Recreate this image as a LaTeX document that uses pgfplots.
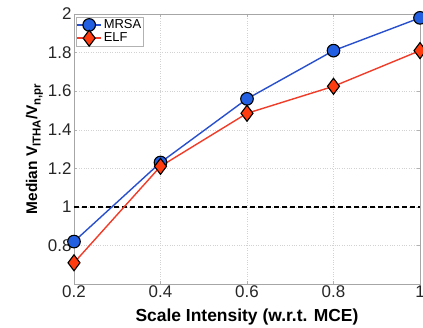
\documentclass[border=0pt]{standalone}
\usepackage{pgfplots}
\pgfplotsset{compat=1.18}
\usepackage{fontspec}
\setmainfont{Liberation Sans}
\definecolor{mblue}{RGB}{40,80,205}
\definecolor{mbluefill}{RGB}{35,95,225}
\definecolor{ered}{RGB}{240,60,40}
\definecolor{eredfill}{RGB}{255,60,15}
\newcommand{\sub}[1]{\raisebox{-0.45ex}{\fontsize{11.5}{12}\selectfont\bfseries #1}}
\begin{document}
\begin{tikzpicture}
\useasboundingbox (-74bp,-44bp) rectangle (349bp,284bp);
\begin{axis}[
  at={(0,0)}, anchor=south west,
  scale only axis, width=346bp, height=270bp,
  xmin=0.2, xmax=1, ymin=0.6, ymax=2,
  xtick={0.2,0.4,0.6,0.8,1},
  ytick={0.8,1,1.2,1.4,1.6,1.8,2},
  xticklabels={0.2,0.4,0.6,0.8,1},
  yticklabels={0.8,1,1.2,1.4,1.6,1.8,2},
  tick label style={font=\fontsize{17}{18}\selectfont, text=black!85},
  xticklabel style={yshift=2bp},
  yticklabel style={xshift=1bp},
  grid=major,
  major grid style={dotted, gray!35},
  axis line style={gray!70, line width=0.8bp},
  tick style={gray!60},
  major tick length=3bp,
  tick align=inside,
  xlabel={\textbf{Scale Intensity (w.r.t. MCE)}},
  ylabel={\textbf{Median V\sub{ITHA}/V\sub{n,pr}}},
  xlabel style={font=\fontsize{17.5}{19}\selectfont, yshift=-5bp},
  ylabel style={font=\fontsize{15.5}{17}\selectfont, yshift=-2bp},
  legend style={at={(0.006,0.989)}, anchor=north west, font=\fontsize{13}{14}\selectfont, draw=gray!60, inner sep=0.5pt, row sep=-2pt, outer xsep=0pt},
  legend cell align=left,
  legend image code/.code={\draw[mark repeat=2,mark phase=2] plot coordinates {(0cm,0cm)(0.42cm,0cm)(0.84cm,0cm)};},
]
\addplot[black, line width=1.8bp, dash pattern=on 5bp off 3bp, forget plot] coordinates {(0.2,1) (1,1)};
\addplot[mblue, line width=1.4bp, mark=*, mark size=6.3bp, mark options={fill=mbluefill, draw=black, line width=1.1bp}] coordinates {
(0.2,0.82) (0.4,1.23) (0.6,1.56) (0.8,1.81) (1,1.98)};
\addlegendentry{MRSA}
\addplot[ered, line width=1.4bp, mark=diamond*, mark size=8bp, mark options={fill=eredfill, draw=black, line width=1.1bp}] coordinates {
(0.2,0.71) (0.4,1.21) (0.6,1.485) (0.8,1.625) (1,1.81)};
\addlegendentry{ELF}
\end{axis}
\end{tikzpicture}
\end{document}
